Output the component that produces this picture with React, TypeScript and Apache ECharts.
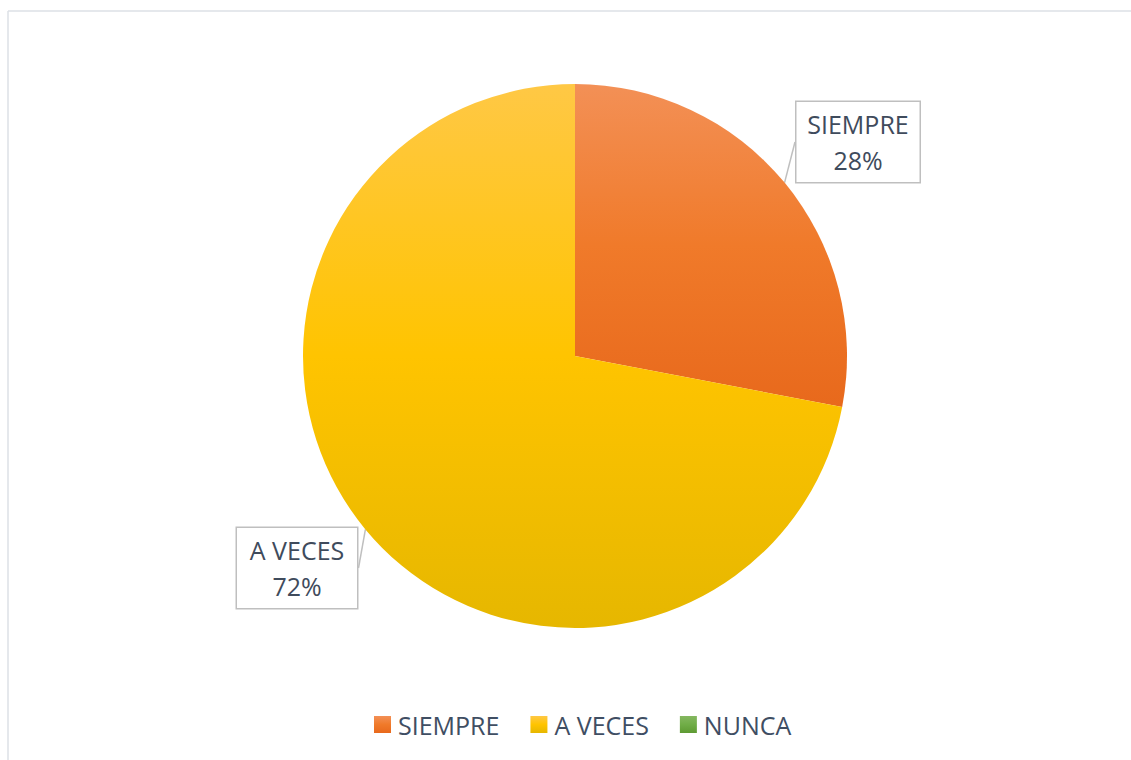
import React, { useEffect, useRef } from "react";
import * as echarts from "echarts";

const categories = ["SIEMPRE", "A VECES", "NUNCA"];
const values = [28, 72, 0];
const topColors = ["#F39056", "#FFC845", "#85B760"];
const midColors = ["#F07A2A", "#FFC400", "#70AD47"];
const bottomColors = ["#E8691C", "#E6B700", "#5E9A33"];
const labelCenters = [
  [858, 142],
  [297, 568],
];
const labelWidths = [107, 104];

export default function App() {
  const ref = useRef<HTMLDivElement>(null);
  useEffect(() => {
    if (!ref.current) return;
    const chart = echarts.init(ref.current, null, { renderer: "svg" });
    const grad = (i: number) =>
      new echarts.graphic.LinearGradient(0, 0, 0, 1, [
        { offset: 0, color: topColors[i] },
        { offset: 0.5, color: midColors[i] },
        { offset: 1, color: bottomColors[i] },
      ]);
    const font = "'Open Sans', sans-serif";
    chart.setOption({
      animation: false,
      backgroundColor: "#ffffff",
      legend: {
        left: 369,
        top: 707,
        icon: "rect",
        itemWidth: 17,
        itemHeight: 17,
        itemGap: 31,
        textStyle: { fontSize: 25, color: "#3F4E63", fontFamily: font, padding: [0, 0, 0, 2] },
        data: categories,
      },
      graphic: [
        { type: "line", shape: { x1: 8, y1: 11, x2: 1131, y2: 11 }, style: { stroke: "#DDE1E6", lineWidth: 1.5 } },
        { type: "line", shape: { x1: 8, y1: 11, x2: 8, y2: 760 }, style: { stroke: "#DDE1E6", lineWidth: 1.5 } },
      ],
      series: [
        {
          type: "pie",
          center: [575, 356],
          radius: 272,
          startAngle: 90,
          clockwise: true,
          percentPrecision: 0,
          avoidLabelOverlap: false,
          data: categories.map((name, i) => ({
            name,
            value: values[i],
            itemStyle: { color: grad(i), borderWidth: 0 },
            label: i < 2 ? { width: labelWidths[i] } : { show: false },
            labelLine: i < 2 ? {} : { show: false },
          })),
          label: {
            show: true,
            position: "outside",
            formatter: "{b}\n{d}%",
            fontSize: 25,
            lineHeight: 36,
            fontFamily: font,
            color: "#3F4B5C",
            align: "center",
            backgroundColor: "#ffffff",
            borderColor: "#BFBFBF",
            borderWidth: 1.5,
            padding: [4, 8, 4, 8],
          },
          labelLine: {
            show: true,
            length: 0,
            length2: 0,
            lineStyle: { color: "#BFBFBF", width: 1.5 },
          },
          labelLayout: (p: any) => {
            const c = labelCenters[p.dataIndex];
            if (!c) return {};
            return { x: c[0], y: c[1], align: "center", verticalAlign: "middle" };
          },
        },
      ],
    });
    return () => chart.dispose();
  }, []);
  return (
    <div
      ref={ref}
      style={{ position: "absolute", left: 0, top: 0, width: 1131, height: 760 }}
    />
  );
}
